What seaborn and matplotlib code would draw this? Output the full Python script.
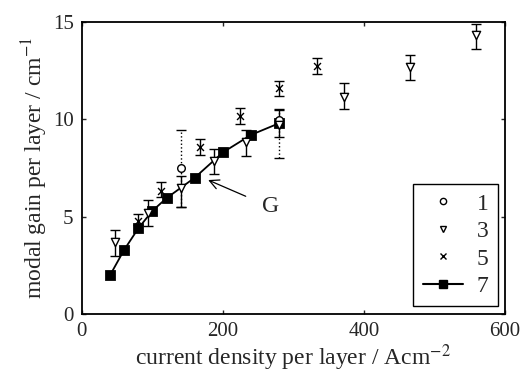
import matplotlib

matplotlib.use("Agg")
import matplotlib.pyplot as plt
import pandas as pd
import seaborn as sns
from matplotlib.lines import Line2D

# series "1" (open circles, dotted error bars)
x1 = [140, 280]
y1 = [7.5, 9.95]
lo1 = [5.5, 8.0]
hi1 = [9.45, 10.5]

# series "3" (open down-triangles)
x3 = [47, 94, 140, 187, 232, 280, 372, 465, 559]
y3 = [3.7, 5.2, 6.45, 7.88, 8.82, 9.7, 11.15, 12.7, 14.3]
lo3 = [2.97, 4.5, 5.5, 7.2, 8.1, 9.08, 10.5, 12.0, 13.6]
hi3 = [4.34, 5.84, 7.07, 8.48, 9.46, 10.45, 11.85, 13.3, 14.9]

# series "5" (crosses)
x5 = [79, 112, 168, 224, 280, 334]
y5 = [4.8, 6.3, 8.57, 10.15, 11.6, 12.75]
lo5 = [4.56, 6.0, 8.14, 9.76, 11.2, 12.32]
hi5 = [5.16, 6.77, 9.0, 10.58, 11.98, 13.15]

# series "7" (filled squares joined by a line)
x7 = [40, 60, 80, 100, 120, 160, 200, 240, 280]
y7 = [2.0, 3.3, 4.4, 5.3, 5.95, 7.0, 8.3, 9.2, 9.8]

df1 = pd.DataFrame({"j": x1, "g": y1, "lo": lo1, "hi": hi1})
df3 = pd.DataFrame({"j": x3, "g": y3, "lo": lo3, "hi": hi3})
df5 = pd.DataFrame({"j": x5, "g": y5, "lo": lo5, "hi": hi5})
df7 = pd.DataFrame({"j": x7, "g": y7})

sns.set_style("ticks")
plt.rcParams["font.family"] = ["Liberation Serif", "DejaVu Serif"]
plt.rcParams["mathtext.fontset"] = "stix"

fig = plt.figure(figsize=(5.25, 3.83), dpi=100)
ax = fig.add_axes([0.156, 0.180, 0.806, 0.763])


def errbars(d, ls="-"):
    eb = ax.errorbar(
        d["j"],
        d["g"],
        yerr=[d["g"] - d["lo"], d["hi"] - d["g"]],
        fmt="none",
        ecolor="black",
        elinewidth=1.0,
        capsize=3.5,
        capthick=1.0,
        zorder=2,
    )
    for lc in eb[2]:
        lc.set_linestyle(ls)


errbars(df1, ":")
errbars(df3)
errbars(df5)

sns.lineplot(data=df7, x="j", y="g", color="black", linewidth=1.3, ax=ax, zorder=3)
sns.scatterplot(
    data=df7, x="j", y="g", marker="s", s=50, color="black", edgecolor="black", ax=ax, zorder=4
)
sns.scatterplot(
    data=df1, x="j", y="g", marker="o", s=30, facecolor="white", edgecolor="black",
    linewidth=1.0, ax=ax, zorder=5,
)
sns.scatterplot(
    data=df3, x="j", y="g", marker="v", s=35, facecolor="white", edgecolor="black",
    linewidth=1.0, ax=ax, zorder=5,
)
sns.scatterplot(
    data=df5, x="j", y="g", marker="x", s=25, color="black", linewidth=1.0, ax=ax, zorder=5
)

ax.annotate(
    "G",
    xy=(179, 6.88),
    xytext=(255, 5.5),
    fontsize=17,
    va="center",
    arrowprops=dict(arrowstyle="->", color="black", lw=0.9, shrinkA=10, shrinkB=0),
)

ax.set_xlim(0, 600)
ax.set_ylim(0, 15)
ax.set_xticks([0, 200, 400, 600])
ax.set_yticks([0, 5, 10, 15])
ax.tick_params(direction="in", length=3, width=1, labelsize=15, top=True, right=True, pad=6)
for sp in ax.spines.values():
    sp.set_linewidth(1.3)
    sp.set_color("black")
ax.set_xlabel("current density per layer / Acm$^{-2}$", fontsize=17, labelpad=1)
ax.set_ylabel("modal gain per layer / cm$^{-1}$", fontsize=17, labelpad=2)

handles = [
    Line2D([0], [0], marker="o", ls="none", mfc="white", mec="black", ms=4.5, label="1"),
    Line2D([0], [0], marker="v", ls="none", mfc="white", mec="black", ms=4.5, label="3"),
    Line2D([0], [0], marker="x", ls="none", color="black", ms=4.5, label="5"),
    Line2D([0], [0], marker="s", ls="-", color="black", ms=5.5, label="7"),
]
leg = ax.legend(
    handles=handles,
    loc="lower right",
    bbox_to_anchor=(0.995, 0.01),
    fontsize=17,
    frameon=True,
    fancybox=False,
    edgecolor="black",
    framealpha=1,
    handlelength=1.7,
    handletextpad=0.6,
    labelspacing=0.25,
    borderpad=0.4,
    borderaxespad=0.2,
)
leg.get_frame().set_linewidth(1.0)

fig.savefig("out.png", dpi=100)
